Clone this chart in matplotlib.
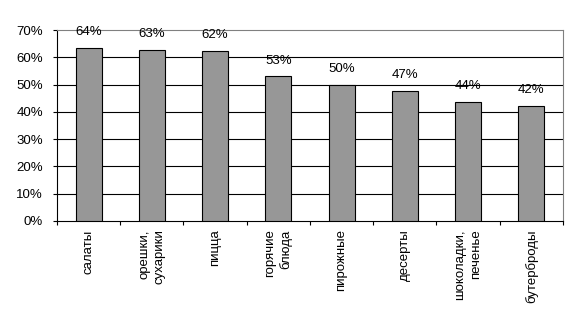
import matplotlib
matplotlib.use("Agg")
import matplotlib.pyplot as plt

categories = ["салаты", "орешки,\nсухарики", "пицца", "горячие\nблюда",
              "пирожные", "десерты", "шоколадки,\nпеченье", "бутерброды"]
values = [63.6, 62.6, 62.2, 53.0, 49.8, 47.5, 43.5, 42.0]
value_labels = ["64%", "63%", "62%", "53%", "50%", "47%", "44%", "42%"]
yticks = [0, 10, 20, 30, 40, 50, 60, 70]

plt.rcParams['font.family'] = ['Liberation Sans', 'DejaVu Sans']
fs = 9.5

fig = plt.figure(figsize=(5.81, 3.24), dpi=100)
ax = fig.add_axes([0.098, 0.318, 0.871, 0.589])

x = range(len(categories))
ax.bar(x, values, width=0.41, color='#979797', edgecolor='black', linewidth=0.8, zorder=3)

for i, v in enumerate(values):
	ax.annotate(value_labels[i], (i, v), xytext=(0, 11.5), textcoords='offset points',
		ha='center', va='center', fontsize=fs)

ax.set_xlim(-0.5, len(categories) - 0.5)
ax.set_ylim(0, 70)
ax.set_yticks(yticks)
ax.set_yticklabels([str(t) + "%" for t in yticks], fontsize=fs)
ax.tick_params(axis='y', length=3, width=0.8, pad=7)

ax.set_xticks(list(x))
ax.set_xticklabels(categories, rotation=90, fontsize=fs, ha='center', va='top',
	multialignment='right', linespacing=1.35)
ax.set_xticks([i - 0.5 for i in range(len(categories) + 1)], minor=True)
ax.tick_params(axis='x', which='major', length=0, pad=6)
ax.tick_params(axis='x', which='minor', length=3, width=0.8)

for t in yticks[1:-1]:
	ax.axhline(t, color='black', linewidth=0.8, zorder=1)

ax.spines['top'].set_color('#808080')
ax.spines['right'].set_color('#808080')
ax.spines['left'].set_linewidth(0.8)
ax.spines['bottom'].set_linewidth(0.8)
ax.spines['top'].set_linewidth(0.8)
ax.spines['right'].set_linewidth(0.8)

fig.savefig("out.png", dpi=100)
